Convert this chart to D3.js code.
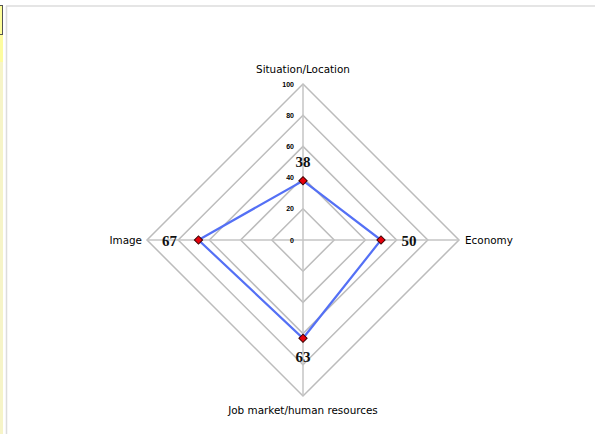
<!DOCTYPE html>
<html><head><meta charset="utf-8">
<script src="https://cdn.jsdelivr.net/npm/d3@7"></script>
<style>body{margin:0;background:#fff}svg{display:block}</style>
</head><body>
<svg id="c" width="595" height="434"></svg>
<script>
const categories = ["Situation/Location", "Economy", "Job market/human resources", "Image"];
const values = [38, 50, 63, 67];
const ticks = [0, 20, 40, 60, 80, 100];

const svg = d3.select("#c");
const W = 595, H = 434;
// frame decoration
svg.append("rect").attr("x", 0).attr("y", 35).attr("width", 3).attr("height", 399).attr("fill", "#f6f4c8");
svg.append("rect").attr("x", 0).attr("y", 35).attr("width", 3).attr("height", 27).attr("fill", "#fdfca0");
svg.append("rect").attr("x", -1).attr("y", 5.5).attr("width", 3.5).attr("height", 29).attr("fill", "#fefe9a").attr("stroke", "#555").attr("stroke-width", 1);
svg.append("line").attr("x1", 6).attr("x2", W).attr("y1", 6).attr("y2", 6).attr("stroke", "#dcdcdc").attr("stroke-width", 1.5);
svg.append("line").attr("x1", 6.5).attr("x2", 6.5).attr("y1", 6).attr("y2", H).attr("stroke", "#dcdcdc").attr("stroke-width", 1.5);

const cx = 303, cy = 240, R = 156;
const r = d3.scaleLinear().domain([0, 100]).range([0, R]);
const n = categories.length;
const ang = i => -Math.PI / 2 + i * 2 * Math.PI / n;
const pt = (i, v) => [cx + r(v) * Math.cos(ang(i)), cy + r(v) * Math.sin(ang(i))];

const g = svg.append("g");
// rings
ticks.filter(t => t > 0).forEach(t => {
  g.append("polygon").attr("points", categories.map((c, i) => pt(i, t).join(",")).join(" "))
    .attr("fill", "none").attr("stroke", "#bcbcbc").attr("stroke-width", 1.5);
});
// spokes
categories.forEach((c, i) => {
  const p = pt(i, 100);
  g.append("line").attr("x1", cx).attr("y1", cy).attr("x2", p[0]).attr("y2", p[1])
    .attr("stroke", "#c4c4c4").attr("stroke-width", 1.5);
});
// tick labels
ticks.forEach(t => {
  g.append("text").attr("x", cx - 9).attr("y", cy - r(t) + 2.5).attr("text-anchor", "end")
    .attr("font-family", "Liberation Sans, Arial, sans-serif").attr("font-weight", "bold")
    .attr("font-size", 7).attr("fill", "#000").text(t);
});
// axis labels
const lab = [
  {dx: 0, dy: -11, anchor: "middle"},
  {dx: 6, dy: 3.5, anchor: "start"},
  {dx: 0, dy: 18, anchor: "middle"},
  {dx: -5, dy: 3.5, anchor: "end"}
];
categories.forEach((c, i) => {
  const p = pt(i, 100);
  g.append("text").attr("x", p[0] + lab[i].dx).attr("y", p[1] + lab[i].dy).attr("text-anchor", lab[i].anchor)
    .attr("font-family", "DejaVu Sans, Verdana, sans-serif").attr("font-size", 10.4).attr("fill", "#000").text(c);
});
// series line
const line = d3.line().curve(d3.curveLinearClosed);
g.append("path").attr("d", line(values.map((v, i) => pt(i, v))))
  .attr("fill", "none").attr("stroke", "#5470f5").attr("stroke-width", 2.2);
// markers
const sym = d3.symbol().type(d3.symbolSquare).size(34);
values.forEach((v, i) => {
  const p = pt(i, v);
  g.append("path").attr("d", sym()).attr("transform", `translate(${p[0]},${p[1]}) rotate(45)`)
    .attr("fill", "#e8000b").attr("stroke", "#3a0000").attr("stroke-width", 1);
});
// value labels
const voff = [19, 28, 18, 29];
values.forEach((v, i) => {
  const d = r(v) + voff[i];
  const x = cx + d * Math.cos(ang(i)), y = cy + d * Math.sin(ang(i));
  g.append("text").attr("x", x).attr("y", y + 5.5).attr("text-anchor", "middle")
    .attr("font-family", "Liberation Serif, Times New Roman, serif").attr("font-weight", "bold")
    .attr("font-size", 15).attr("fill", "#111").text(v);
});
</script>
</body></html>
